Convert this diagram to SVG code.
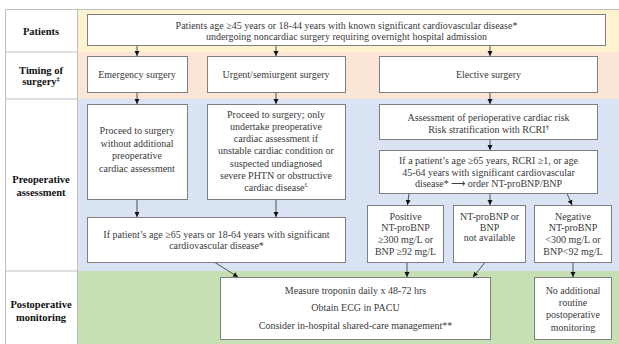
<svg xmlns="http://www.w3.org/2000/svg" width="619" height="344" viewBox="0 0 619 344">
<style>
.box{fill:#fff;stroke:#7f7f7f;stroke-width:1}
.t{font-family:"Liberation Serif","Times New Roman",serif;font-size:10px;fill:#3a3a3a;text-anchor:middle}
.lb{font-family:"Liberation Serif","Times New Roman",serif;font-size:10.5px;font-weight:bold;fill:#111;text-anchor:middle}
.frame{stroke:#bfbfbf;stroke-width:1;fill:none}
.c{stroke:#404040;stroke-width:0.9;fill:none;marker-end:url(#ah)}
.sup{font-size:6.5px}
</style>
<defs>
<marker id="ah" markerUnits="userSpaceOnUse" markerWidth="6" markerHeight="6" refX="5" refY="3" orient="auto">
<path d="M0,0.5 L5,3 L0,5.5 z" fill="#111"/>
</marker>
</defs>
<rect width="619" height="344" fill="#fff"/>
<g id="bands">
<rect x="77.5" y="9.5" width="542" height="42.5" fill="#fff2cf"/>
<rect x="77.5" y="52" width="542" height="47" fill="#fbe5d6"/>
<rect x="77.5" y="99" width="542" height="172" fill="#dae3f3"/>
<rect x="77.5" y="271" width="542" height="74" fill="#c6e0b4"/>
</g>
<g id="frame">
<path class="frame" d="M5.5,345 V9.5 H620 M77.5,9.5 V345 M5.5,52 H77.5 M5.5,99 H77.5 M5.5,271 H77.5"/>
</g>
<g id="labels">
<text class="lb" x="41" y="35">Patients</text>
<text class="lb" x="41" y="74">Timing of</text>
<text class="lb" x="41" y="84.5">surgery<tspan class="sup" dy="-4">‡</tspan></text>
<text class="lb" x="41" y="183">Preoperative</text>
<text class="lb" x="41" y="195.5">assessment</text>
<text class="lb" x="41" y="308">Postoperative</text>
<text class="lb" x="41" y="320.5">monitoring</text>
</g>
<g id="connectors">
<line class="c" x1="137" y1="45.5" x2="137" y2="56"/>
<line class="c" x1="276" y1="45.5" x2="276" y2="56"/>
<line class="c" x1="490" y1="45.5" x2="490" y2="56"/>
<line class="c" x1="137" y1="92.5" x2="137" y2="104"/>
<line class="c" x1="276" y1="92.5" x2="276" y2="104"/>
<line class="c" x1="490" y1="92.5" x2="490" y2="104"/>
<line class="c" x1="490" y1="139.5" x2="490" y2="150"/>
<line class="c" x1="409" y1="193.5" x2="407.5" y2="205"/>
<line class="c" x1="490" y1="193.5" x2="490" y2="205"/>
<line class="c" x1="567" y1="193.5" x2="572" y2="205"/>
<line class="c" x1="137" y1="199.5" x2="137" y2="217"/>
<line class="c" x1="276" y1="199.5" x2="276" y2="217"/>
<line class="c" x1="215" y1="262.5" x2="238" y2="277"/>
<line class="c" x1="407" y1="262.5" x2="407" y2="277"/>
<line class="c" x1="485" y1="262.5" x2="473" y2="277"/>
<line class="c" x1="573" y1="262.5" x2="573" y2="277"/>
</g>
<g id="patients">
<rect class="box" x="87.5" y="14.5" width="518" height="31"/>
<text class="t" x="346.5" y="28.5">Patients age ≥45 years or 18-44 years with known significant cardiovascular disease*</text>
<text class="t" x="346.5" y="39.5">undergoing noncardiac surgery requiring overnight hospital admission</text>
</g>
<g id="emergency">
<rect class="box" x="87.5" y="56.5" width="100" height="36"/>
<text class="t" x="137" y="78">Emergency surgery</text>
</g>
<g id="urgent">
<rect class="box" x="207.5" y="56.5" width="138" height="36"/>
<text class="t" x="276" y="78">Urgent/semiurgent surgery</text>
</g>
<g id="elective">
<rect class="box" x="379.5" y="56.5" width="218" height="36"/>
<text class="t" x="488.5" y="78">Elective surgery</text>
</g>
<g id="proceed-emergency">
<rect class="box" x="87.5" y="104.5" width="100" height="95"/>
<text class="t" x="137" y="134">Proceed to surgery</text>
<text class="t" x="137" y="146.5">without additional</text>
<text class="t" x="137" y="159">preoperative</text>
<text class="t" x="137" y="171.5">cardiac assessment</text>
</g>
<g id="proceed-urgent">
<rect class="box" x="207.5" y="104.5" width="138" height="95"/>
<text class="t" x="276" y="117.5">Proceed to surgery; only</text>
<text class="t" x="276" y="129.8">undertake preoperative</text>
<text class="t" x="276" y="142.1">cardiac assessment if</text>
<text class="t" x="276" y="154.4">unstable cardiac condition or</text>
<text class="t" x="276" y="166.7">suspected undiagnosed</text>
<text class="t" x="276" y="179">severe PHTN or obstructive</text>
<text class="t" x="276" y="191.3">cardiac disease<tspan class="sup" dy="-4">£</tspan></text>
</g>
<g id="risk-assessment">
<rect class="box" x="379.5" y="104.5" width="218" height="35"/>
<text class="t" x="488.5" y="120.5">Assessment of perioperative cardiac risk</text>
<text class="t" x="488.5" y="132.5">Risk stratification with RCRI<tspan class="sup" dy="-4">§</tspan></text>
</g>
<g id="order-bnp">
<rect class="box" x="379.5" y="150.5" width="218" height="43"/>
<text class="t" x="488.5" y="164">If a patient’s age ≥65 years, RCRI ≥1, or age</text>
<text class="t" x="488.5" y="175.5">45-64 years with significant cardiovascular</text>
<text class="t" x="488.5" y="187.2">disease* ⟶ order NT-proBNP/BNP</text>
</g>
<g id="positive">
<rect class="box" x="367.5" y="205.5" width="76" height="57"/>
<text class="t" x="405.5" y="219.5">Positive</text>
<text class="t" x="405.5" y="230.5">NT-proBNP</text>
<text class="t" x="405.5" y="242.5">≥300 mg/L or</text>
<text class="t" x="405.5" y="255">BNP ≥92 mg/L</text>
</g>
<g id="not-available">
<rect class="box" x="453.5" y="205.5" width="72" height="57"/>
<text class="t" x="489.5" y="219.5">NT-proBNP or</text>
<text class="t" x="489.5" y="230.5">BNP</text>
<text class="t" x="489.5" y="241">not available</text>
</g>
<g id="negative">
<rect class="box" x="534.5" y="205.5" width="77" height="57"/>
<text class="t" x="573" y="219.5">Negative</text>
<text class="t" x="573" y="230.5">NT-proBNP</text>
<text class="t" x="573" y="242.5">&lt;300 mg/L or</text>
<text class="t" x="573" y="255">BNP&lt;92 mg/L</text>
</g>
<g id="age-check">
<rect class="box" x="87.5" y="217.5" width="258" height="45"/>
<text class="t" x="216.5" y="237.5">If patient’s age ≥65 years or 18-64 years with significant</text>
<text class="t" x="216.5" y="249">cardiovascular disease*</text>
</g>
<g id="troponin">
<rect class="box" x="220.5" y="277.5" width="270" height="62"/>
<text class="t" x="355.5" y="294">Measure troponin daily x 48-72 hrs</text>
<text class="t" x="355.5" y="310.5">Obtain ECG in PACU</text>
<text class="t" x="355.5" y="329">Consider in-hospital shared-care management**</text>
</g>
<g id="no-monitoring">
<rect class="box" x="534.5" y="277.5" width="77" height="62"/>
<text class="t" x="573" y="294">No additional</text>
<text class="t" x="573" y="306">routine</text>
<text class="t" x="573" y="318.3">postoperative</text>
<text class="t" x="573" y="330.5">monitoring</text>
</g>
</svg>
